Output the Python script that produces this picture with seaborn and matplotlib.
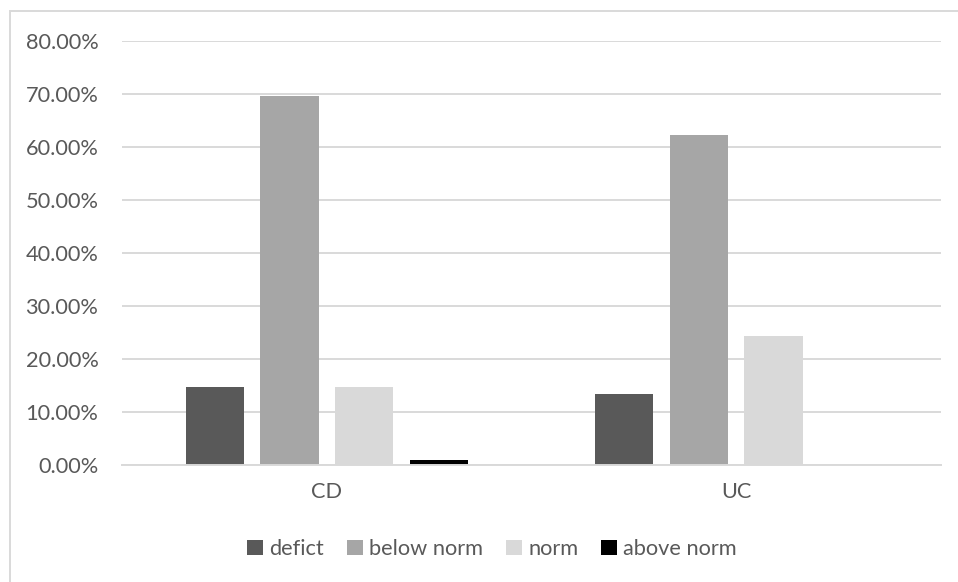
import matplotlib
matplotlib.use("Agg")
import matplotlib.pyplot as plt
from matplotlib.patches import Rectangle
from matplotlib.ticker import FuncFormatter, MultipleLocator
import seaborn as sns
import pandas as pd

# Share of patients in each category, per group
groups = ["CD", "UC"]
levels = ["defict", "below norm", "norm", "above norm"]
cd_values = [0.1471, 0.6961, 0.1471, 0.0098]
uc_values = [0.1333, 0.6222, 0.2444, 0.0]
level_colors = ["#595959", "#a6a6a6", "#d9d9d9", "#000000"]

rows = []
for grp, vals in zip(groups, [cd_values, uc_values]):
    for lvl, v in zip(levels, vals):
        rows.append({"group": grp, "level": lvl, "share": v})
df = pd.DataFrame(rows)

sns.set_theme(style="white")
plt.rcParams["font.family"] = ["Lato", "DejaVu Sans"]
text_color = "#595959"
grid_color = "#d9d9d9"
font_size = 15.7

fig = plt.figure(figsize=(9.58, 5.82), dpi=100)
W, H = 958, 582
ax = fig.add_axes([122 / W, 117 / H, (941 - 122) / W, (465 - 41.3) / H])

sns.barplot(
    data=df, x="group", y="share", hue="level",
    order=groups, hue_order=levels,
    palette=dict(zip(levels, level_colors)),
    width=0.729, gap=0.22, saturation=1, legend=True, ax=ax,
    linewidth=0,
)

ax.set_ylim(0, 0.8)
ax.yaxis.set_major_locator(MultipleLocator(0.1))
ax.yaxis.set_major_formatter(FuncFormatter(lambda v, _: f"{v * 100:.2f}%"))
ax.set_axisbelow(True)
ax.grid(axis="y", color=grid_color, linewidth=1.4)
ax.grid(axis="x", visible=False)
for side in ["top", "right", "left"]:
    ax.spines[side].set_visible(False)
ax.spines["bottom"].set_color(grid_color)
ax.spines["bottom"].set_linewidth(1.4)
ax.set_xlabel("")
ax.set_ylabel("")
ax.tick_params(axis="y", length=0, pad=17, labelsize=font_size, labelcolor=text_color)
ax.tick_params(axis="x", length=0, pad=12, labelsize=font_size, labelcolor=text_color)

handles, labels = ax.get_legend_handles_labels()
ax.get_legend().remove()
fig.legend(
    handles, labels, loc="center", bbox_to_anchor=(492 / W, 1 - 549 / H),
    ncol=4, frameon=False, fontsize=font_size, labelcolor=text_color,
    handlelength=0.72, handleheight=0.72, handletextpad=0.3, columnspacing=1.05,
)

# Light chart frame
fig.patches.append(Rectangle((10 / W, -0.05), 1.1, 1 - 11 / H + 0.05,
                             transform=fig.transFigure, fill=False,
                             edgecolor=grid_color, linewidth=1.4))

fig.savefig("out.png", dpi=100, facecolor="white")
